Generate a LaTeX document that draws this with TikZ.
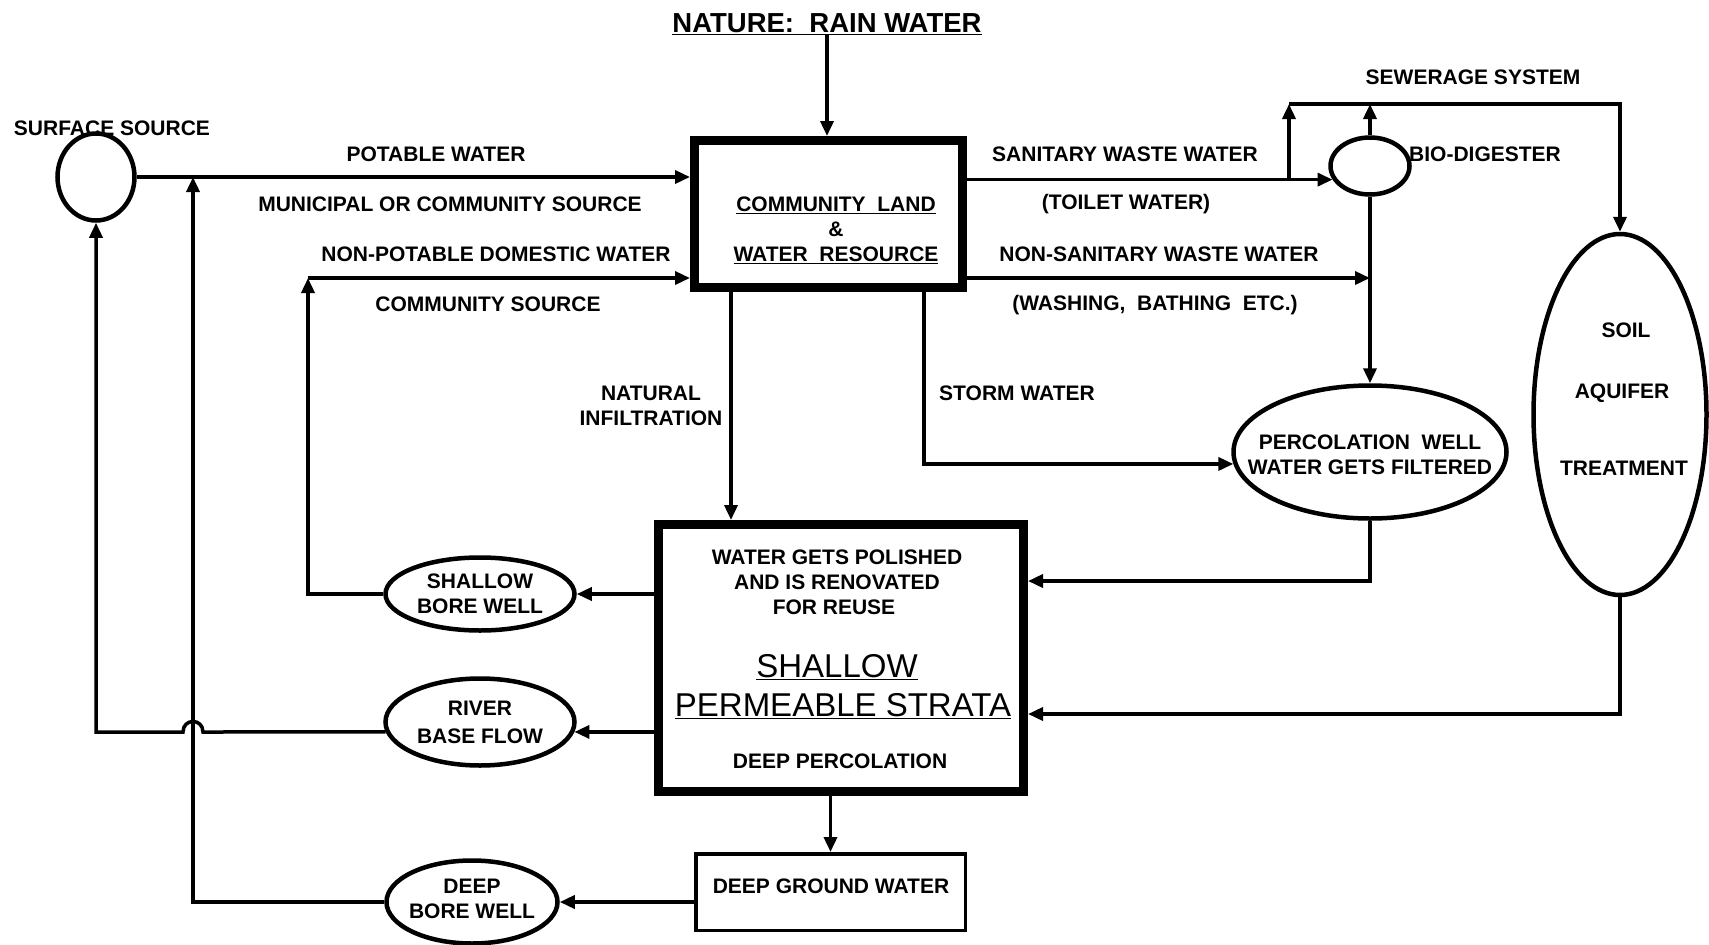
\documentclass[tikz,border=0pt]{standalone}
\usepackage{fontspec}
\setmainfont{Liberation Sans}
\usetikzlibrary{arrows.meta,shapes.geometric,calc}
\begin{document}
\begin{tikzpicture}[x=1pt,y=-1pt,
  lbl/.style={font=\fontsize{21}{25}\selectfont\bfseries, inner sep=0pt},
  big/.style={font=\fontsize{33}{38}\selectfont, inner sep=0pt},
  conn/.style={line width=3.5pt},
  arr/.style={conn, -{Triangle[length=15pt,width=13pt]}},
  ell/.style={draw, ellipse, line width=4.5pt, inner sep=0pt},
  thickbox/.style={draw, line width=9pt, inner sep=0pt},
  thinbox/.style={draw, line width=3.5pt, inner sep=0pt},
]
\useasboundingbox[fill=white] (0,0) rectangle (1709,945);

% ---------- main nodes ----------
\node[font=\fontsize{27.5}{32}\selectfont\bfseries, inner sep=0pt] (title) at (827,24) {\underline{NATURE:\ \ RAIN WATER}};
\node[thickbox, minimum width=268pt, minimum height=147pt] (comm) at (828.5,214) {};
\node[thickbox, minimum width=365pt, minimum height=267pt] (strata) at (841,658) {};
\node[thinbox, minimum width=269.5pt, minimum height=76.5pt] (dgw) at (830.5,892) {};

\node[ell, minimum width=77pt, minimum height=87pt] (surf) at (96,177) {};
\node[ell, minimum width=79pt, minimum height=57pt] (bio) at (1370,166) {};
\node[ell, minimum width=273pt, minimum height=133pt] (perc) at (1370,452) {};
\node[ell, minimum width=173pt, minimum height=361pt] (soil) at (1620,414.5) {};
\node[ell, minimum width=189pt, minimum height=73pt] (sbw) at (480,594) {};
\node[ell, minimum width=189pt, minimum height=87pt] (rbf) at (480,722) {};
\node[ell, minimum width=171pt, minimum height=83pt] (dbw) at (472,902) {};

% ---------- texts inside shapes ----------
\node[lbl] (c1) at (836,205) {\underline{COMMUNITY\ \ LAND}};
\node[lbl] (c2) at (836,229) {\&};
\node[lbl] (c3) at (836,255) {\underline{WATER\ \ RESOURCE}};

\node[lbl] (s1) at (837,557) {WATER GETS POLISHED};
\node[lbl] (s2) at (837,582) {AND IS RENOVATED};
\node[lbl] (s3) at (834,607) {FOR REUSE};
\node[big] (s4) at (837,667) {\underline{SHALLOW}};
\node[big] (s5) at (843,706) {\underline{PERMEABLE STRATA}};
\node[lbl] (s6) at (840,761) {DEEP PERCOLATION};

\node[lbl] (dgwt) at (831,886) {DEEP GROUND WATER};
\node[lbl, align=center] (perct) at (1370,455) {PERCOLATION\ \ WELL\\WATER GETS FILTERED};
\node[lbl] (soil1) at (1626,330) {SOIL};
\node[lbl] (soil2) at (1622,393) {AQUIFER};
\node[lbl] (soil3) at (1624,468) {TREATMENT};
\node[lbl, align=center] (sbwt) at (480,594) {SHALLOW\\BORE WELL};
\node[lbl, align=center] (rbft) at (480,722) {RIVER\\[3pt]BASE FLOW};
\node[lbl, align=center] (dbwt) at (472,899) {DEEP\\BORE WELL};

% ---------- labels ----------
\node[lbl] (surfl) at (112,128) {SURFACE SOURCE};
\node[lbl] (potl) at (436,154) {POTABLE WATER};
\node[lbl] (munl) at (450,204) {MUNICIPAL OR COMMUNITY SOURCE};
\node[lbl] (npl) at (496,254) {NON-POTABLE DOMESTIC WATER};
\node[lbl] (csl) at (488,304) {COMMUNITY SOURCE};
\node[lbl] (sanl) at (1125,154) {SANITARY WASTE WATER};
\node[lbl] (toil) at (1126,204) {(TOILET WATER)};
\node[lbl] (nsl) at (1159,254) {NON-SANITARY WASTE WATER};
\node[lbl] (wbl) at (1155,305) {(WASHING,\ \ BATHING\ \ ETC.)};
\node[lbl] (sewl) at (1473,77) {SEWERAGE SYSTEM};
\node[lbl] (biol) at (1485,154) {BIO-DIGESTER};
\node[lbl] (storml) at (1017,393) {STORM WATER};
\node[lbl, align=center] (nil) at (651,406) {NATURAL\\INFILTRATION};

% ---------- helper coordinates ----------
\coordinate (np) at (308,278);
\coordinate (brk) at (1289,179);
\coordinate (sewtop) at (1289,104);
\coordinate (stc) at (924,464);
\coordinate (nix) at (731,400);
\coordinate (pc) at (1370,581);
\coordinate (sc) at (1620,714);
\coordinate (hop) at (193,732);
\coordinate (pj) at (193,177);

% ---------- connectors ----------
\draw[arr] (title.south) -- (title.south |- comm.north);
\draw[arr] (surf.east) -- (surf.east -| comm.west);
\draw[arr] (sbw.west) -| (np);
\draw[arr] (np) -- (np -| comm.west);
\draw[arr] (comm.east |- bio.200) -- (bio.200);
\draw[arr] (brk) -- (sewtop);
\draw[arr] (sewtop) -| (soil.north);
\draw[arr] (bio.north) -- (bio.north |- sewtop);
\draw[arr] (comm.east |- np) -- (bio.south |- np);
\draw[arr] (bio.south) -- (perc.north);
\draw[arr] (comm.south -| stc) |- (perc.185);
\draw[arr] (comm.south -| nix) -- (strata.north -| nix);
\draw[arr] (perc.south) |- (strata.east |- pc);
\draw[arr] (soil.south) |- (strata.east |- sc);
\draw[arr] (sbw.east -| strata.west) -- (sbw.east);
\draw[arr] (rbf.-6 -| strata.west) -- (rbf.-6);
\draw[arr] (rbf.186) -- ($(hop)+(10,0)$) .. controls +(0,-14) and +(0,-14) .. ($(hop)+(-10,0)$) -- (surf.south |- hop) -- (surf.south);
\draw[arr] (strata.south -| dgw.north) -- (dgw.north);
\draw[arr] (dbw.east -| dgw.west) -- (dbw.east);
\draw[arr] (dbw.west) -| (pj);
\end{tikzpicture}
\end{document}
